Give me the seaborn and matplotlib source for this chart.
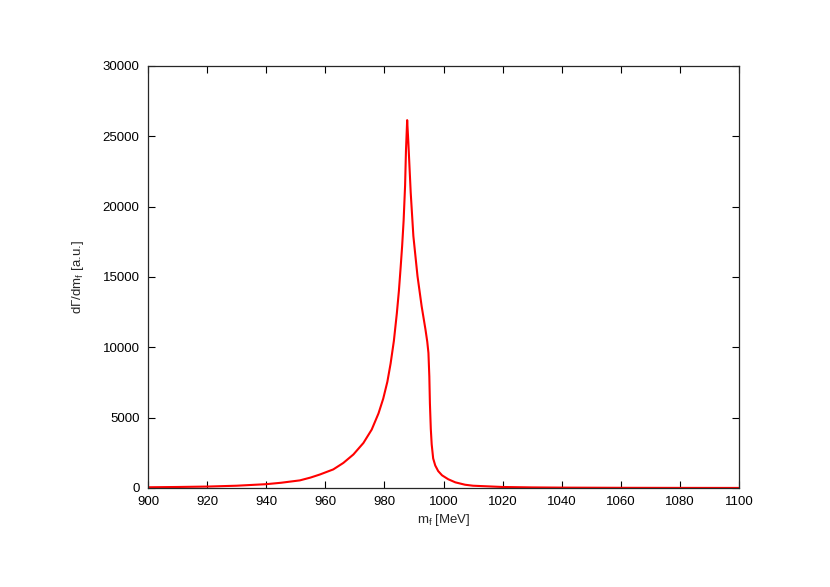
import numpy as np
import pandas as pd
import matplotlib
matplotlib.use("Agg")
import matplotlib.pyplot as plt
import seaborn as sns

# values
mass = [900, 910, 920, 930, 940, 945, 951.4, 955, 958.2, 962.7, 966.1, 969.5,
        972.9, 975.7, 978.0, 979.6, 981.0, 982.1, 983.2, 984.2, 984.9, 985.5,
        986.0, 986.5, 987.0, 987.3, 987.7, 988.1, 988.9, 989.8, 991.2, 992.6,
        993.9, 994.5, 994.9, 995.2, 995.4, 995.7, 996.0, 996.5, 997.2, 998.2,
        999.5, 1001.6, 1004, 1007.3, 1010, 1020, 1030, 1040, 1060, 1080, 1100]
rate = [50, 70, 100, 160, 270, 370, 540, 740, 960, 1320, 1780, 2380,
        3200, 4150, 5300, 6350, 7550, 8850, 10450, 12400, 14000, 15700,
        17200, 19000, 21500, 24000, 26150, 24570, 21000, 17910, 15060, 12920,
        11260, 10400, 9600, 7930, 6000, 4200, 3100, 2100, 1600, 1200,
        900, 620, 400, 230, 160, 70, 40, 25, 12, 6, 3]

df = pd.DataFrame({"m": mass, "rate": rate})

sns.set_style("ticks")
plt.rcParams['font.family'] = ['Liberation Sans', 'DejaVu Sans']
plt.rcParams['mathtext.fontset'] = 'custom'
plt.rcParams['mathtext.rm'] = 'Liberation Sans'
plt.rcParams['mathtext.it'] = 'Liberation Sans:italic'

fig = plt.figure(figsize=(8.3, 5.87), dpi=100)
ax = fig.add_axes([0.1783, 0.1687, 0.8904 - 0.1783, 0.8876 - 0.1687])

sns.lineplot(data=df, x="m", y="rate", color="red", linewidth=1.5, ax=ax)
ax.lines[0].set_solid_joinstyle("round")

ax.set_xlim(900, 1100)
ax.set_ylim(0, 30000)
ax.set_xticks(np.arange(900, 1101, 20))
ax.set_yticks(np.arange(0, 30001, 5000))
ax.tick_params(direction="in", length=5, width=0.8, top=True, right=True,
               labelsize=9.5, colors="black", pad=6)
for s in ax.spines.values():
    s.set_linewidth(0.9)
    s.set_visible(True)

ax.set_xlabel(r"m$_\mathrm{f}$ [MeV]", fontsize=9.5, labelpad=3)
ax.set_ylabel(r"d$\Gamma$/dm$_\mathrm{f}$ [a.u.]", fontsize=9.5, labelpad=12)

plt.savefig("out.png", dpi=100)
